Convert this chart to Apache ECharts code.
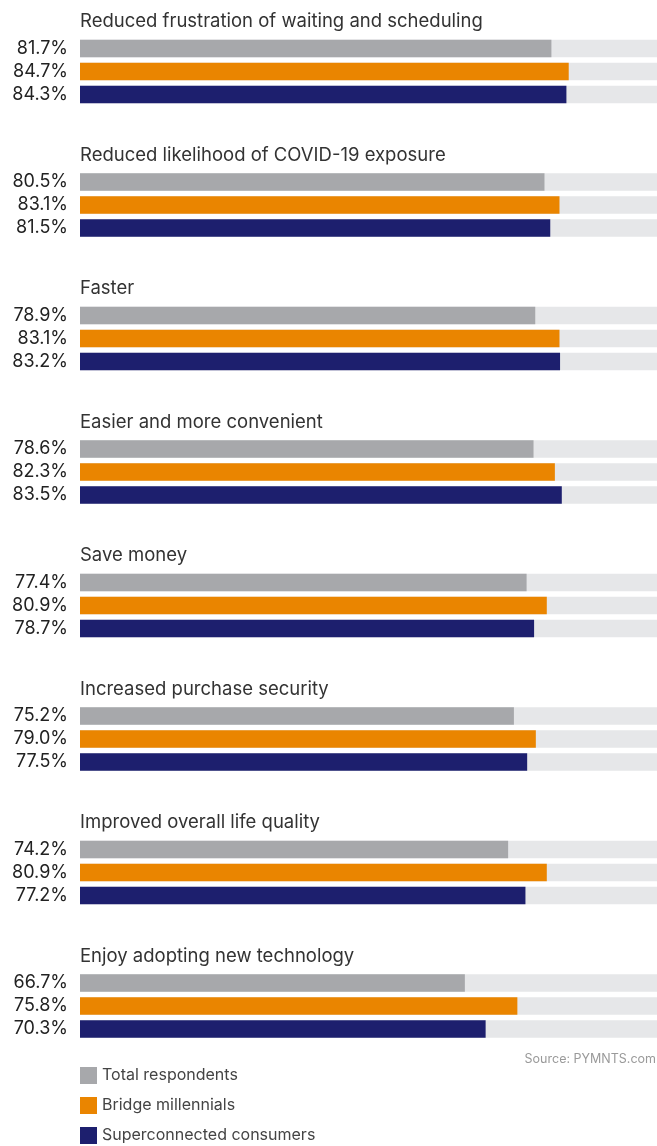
<!DOCTYPE html>
<html>
<head>
<meta charset="utf-8">
<style>
  html, body { margin: 0; padding: 0; background: #ffffff; }
  #chart { width: 657px; height: 1146px; }
</style>
<script src="https://cdn.jsdelivr.net/npm/echarts@6/dist/echarts.min.js"></script>
</head>
<body>
<div id="chart"></div>
<script>
// Benefits reported, share of each consumer group (%)
const benefits = [
  'Reduced frustration of waiting and scheduling',
  'Reduced likelihood of COVID-19 exposure',
  'Faster',
  'Easier and more convenient',
  'Save money',
  'Increased purchase security',
  'Improved overall life quality',
  'Enjoy adopting new technology'
];
const groupNames = ['Total respondents', 'Bridge millennials', 'Superconnected consumers'];
const totalRespondents = [81.7, 80.5, 78.9, 78.6, 77.4, 75.2, 74.2, 66.7];
const bridgeMillennials = [84.7, 83.1, 83.1, 82.3, 80.9, 79.0, 80.9, 75.8];
const superconnected = [84.3, 81.5, 83.2, 83.5, 78.7, 77.5, 77.2, 70.3];
const sourceNote = 'Source: PYMNTS.com';

const colors = ['#a7a8ab', '#ea8500', '#1d1f6e'];
const trackColor = '#e6e7e9';
const FONT = 'Inter, "Noto Sans", sans-serif';

const seriesValues = [totalRespondents, bridgeMillennials, superconnected];
const PITCH = 133.5;

const grids = [], xAxes = [], yAxes = [], series = [], titles = [];

benefits.forEach((name, g) => {
  grids.push({ left: 80, right: 0, top: 37 + g * PITCH, height: 69 });
  xAxes.push({ gridIndex: g, type: 'value', min: 0, max: 100, show: false });
  yAxes.push({
    gridIndex: g, type: 'category', inverse: true, data: groupNames,
    axisLine: { show: false }, axisTick: { show: false }, axisLabel: { show: false }, splitLine: { show: false }
  });
  titles.push({
    text: name, left: 80, top: 12 + g * PITCH, padding: 0,
    textStyle: { fontFamily: FONT, fontSize: 18.5, fontWeight: 'normal', color: '#333333' }
  });
  // full-width background track
  series.push({
    type: 'bar', xAxisIndex: g, yAxisIndex: g, silent: true,
    data: groupNames.map(() => 100), barWidth: 17.5,
    itemStyle: { color: trackColor }, z: 1
  });
  // one series per consumer group, stacked so each sits in its own row
  groupNames.forEach((gn, k) => {
    series.push({
      name: gn, type: 'bar', xAxisIndex: g, yAxisIndex: g, stack: 'v' + g,
      barWidth: 17.5, barGap: '-100%', z: 2,
      data: groupNames.map((_, r) => r === k ? seriesValues[k][g] : '-'),
      itemStyle: { color: colors[k] },
      label: {
        show: true, position: 'left', distance: 12,
        formatter: p => p.value.toFixed(1) + '%',
        fontFamily: FONT, fontSize: 18, color: '#222222'
      }
    });
  });
});

titles.push({
  text: sourceNote, right: 1, top: 1053, padding: 0,
  textStyle: { fontFamily: FONT, fontSize: 12.5, fontWeight: 'normal', color: '#9a9a9a' }
});

const chart = echarts.init(document.getElementById('chart'), null, { renderer: 'canvas' });
chart.setOption({
  animation: false,
  backgroundColor: '#ffffff',
  title: titles,
  grid: grids,
  xAxis: xAxes,
  yAxis: yAxes,
  legend: {
    data: groupNames, orient: 'vertical', left: 80, top: 1067, padding: 0,
    icon: 'rect', itemWidth: 17, itemHeight: 17, itemGap: 13, selectedMode: false,
    textStyle: { fontFamily: FONT, fontSize: 16, color: '#444444' }
  },
  series: series
});
</script>
</body>
</html>
